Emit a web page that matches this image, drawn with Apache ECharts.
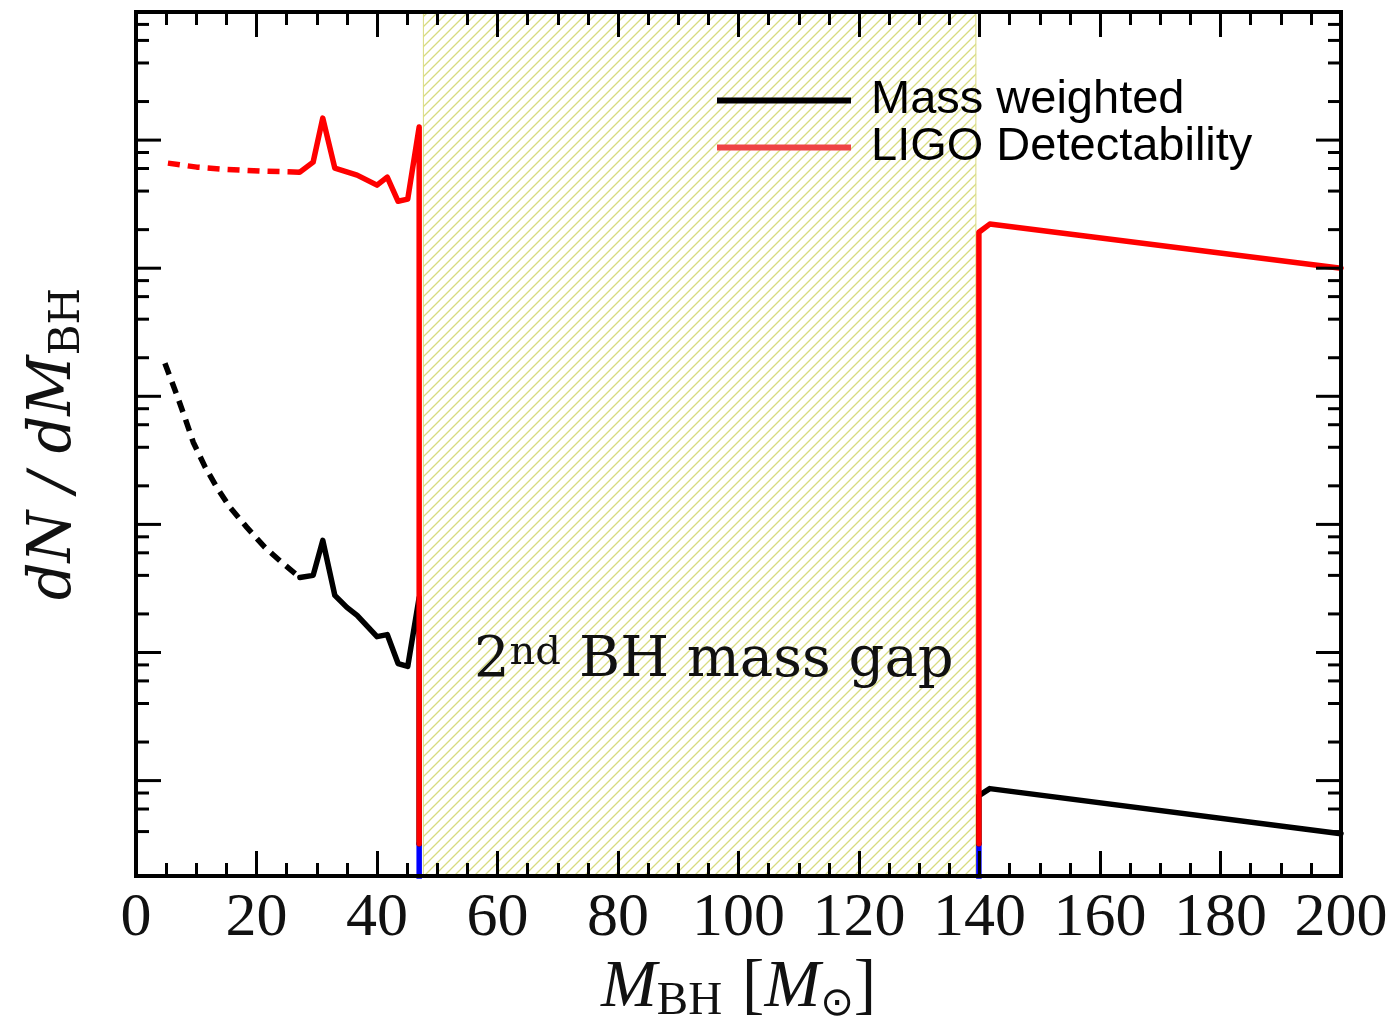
<!DOCTYPE html>
<html>
<head>
<meta charset="utf-8">
<script src="https://cdn.jsdelivr.net/npm/echarts@6/dist/echarts.min.js"></script>
<style>html,body{margin:0;padding:0;background:#fff;}#c{width:1396px;height:1023px;}</style>
</head>
<body>
<div id="c"></div>
<script>
// ---------------- data ----------------
const xMin = 0, xMax = 200, xInterval = 20;
const yMin = 0.18, yMax = 1e6;           // arbitrary units, log scale, no labels
const gapStart = 47.7, gapEnd = 139.4;    // hatched "2nd BH mass gap"
const gapLabelX = 95.9, gapLabelY = 8.1;

// LIGO detectability (red)
const ligoDashX = [5.3, 10.1, 14.4, 20.6, 27.2];
const ligoDashY = [6.61e4, 6.15e4, 5.93e4, 5.73e4, 5.62e4];
const ligoLowX  = [27.2, 29.4, 31.0, 33.0, 36.7, 40.0, 41.7, 43.5, 45.1, 47.0, 47.0];
const ligoLowY  = [5.62e4, 6.73e4, 1.486e5, 6.04e4, 5.33e4, 4.45e4, 5.14e4, 3.33e4, 3.46e4, 1.265e5, 0.322];
const ligoHighX = [139.9, 139.9, 141.7, 200];
const ligoHighY = [0.322, 1.91e4, 2.21e4, 1.0e4];

// Mass weighted (black)
const massDashX = [4.8, 6.8, 8.1, 9.5, 11.5, 13.4, 15.6, 18.4, 21.4, 24.4, 27.2];
const massDashY = [1811, 1019, 685, 438, 279, 195, 136, 94.8, 66.1, 49.5, 38.5];
const massLowX  = [27.2, 29.4, 31.0, 33.0, 35.0, 36.7, 40.0, 41.7, 43.5, 45.1, 47.0, 47.0];
const massLowY  = [38.5, 40.0, 75.0, 27.9, 22.5, 19.5, 13.3, 13.8, 8.20, 7.78, 26.9, 0.322];
const massHighX = [139.9, 139.9, 141.7, 200];
const massHighY = [0.322, 0.764, 0.866, 0.385];

// blue edge segments (visible only below the red)
const blueLeftX = [47.0, 47.0];
const blueLeftY = [0.322, 0.05];
const blueRightX = [139.9, 139.9];
const blueRightY = [0.05, 0.322];

const legendNames = ['Mass weighted', 'LIGO Detectability'];
// ----------------------------------------------------------------

const pairs = (xs, ys) => xs.map((x, i) => [x, ys[i]]);

// y-axis ticks: decades (major) and 2,4,6,8 (minor)
const yTicks = [];
for (let k = -1; k <= 6; k++) {
  const d = Math.pow(10, k);
  if (d >= yMin && d <= yMax) yTicks.push([0, d, 1]);
  [2, 4, 6, 8].forEach(m => {
    const v = m * d;
    if (v > yMin * 1.2 && v < yMax) yTicks.push([0, v, 0]);
  });
}

function hatch() {
  const s = 10;
  const c = document.createElement('canvas');
  c.width = s; c.height = s;
  const g = c.getContext('2d');
  g.strokeStyle = '#d8db80';
  g.lineWidth = 1.3;
  g.beginPath();
  g.moveTo(0, s); g.lineTo(s, 0);
  g.moveTo(-2, 2); g.lineTo(2, -2);
  g.moveTo(s - 2, s + 2); g.lineTo(s + 2, s - 2);
  g.stroke();
  return c;
}

const chart = echarts.init(document.getElementById('c'), null, {renderer: 'canvas'});

const serif = 'Liberation Serif';
const xAxisCommon = {
  type: 'value', min: xMin, max: xMax, interval: xInterval, z: 10,
  axisLine: {show: false},
  splitLine: {show: false},
  axisTick: {show: true, inside: true, length: 25, lineStyle: {color: '#000', width: 3}},
  minorTick: {show: true, splitNumber: 4, length: 13, lineStyle: {color: '#000', width: 3}},
  minorSplitLine: {show: false}
};

const lineBase = (name, data, color, dashed) => ({
  type: 'line', name: name, data: data, symbol: 'none', showSymbol: false,
  animation: false, silent: true, clip: true,
  itemStyle: {color: color},
  lineStyle: {color: color, width: 5.5, type: dashed ? [12, 8] : 'solid', join: 'round', cap: dashed ? 'butt' : 'round'},
  z: 3
});

const option = {
  animation: false,
  backgroundColor: '#fff',
  grid: {left: 136, right: 55, top: 12, bottom: 147, containLabel: false, outerBoundsMode: 'none',
         show: true, borderColor: '#000', borderWidth: 4, backgroundColor: 'transparent', z: 10},
  legend: {
    orient: 'vertical', left: 717, top: 77, itemWidth: 134, itemHeight: 6, itemGap: 0, padding: 0,
    selectedMode: false, z: 12,
    textStyle: {fontFamily: 'Liberation Sans', fontSize: 47, color: '#000', lineHeight: 47, padding: [0, 0, 0, 15]},
    data: [
      {name: legendNames[0], icon: 'rect', itemStyle: {color: '#000', borderWidth: 0}},
      {name: legendNames[1], icon: 'rect', itemStyle: {color: '#ef4444', borderWidth: 0}}
    ]
  },
  xAxis: [
    Object.assign({}, xAxisCommon, {
      position: 'bottom',
      axisLabel: {show: true, margin: 12, fontFamily: serif, fontSize: 62, lineHeight: 62, color: '#111'},
      name: '{it|M}{sub|BH}{sp|\u00a0}{n|[}{it|M}{sun|⊙}{n|]}',
      nameLocation: 'middle', nameGap: 72,
      nameTextStyle: {
        color: '#111',
        rich: {
          it: {fontFamily: serif, fontStyle: 'italic', fontSize: 67, lineHeight: 70, verticalAlign: 'top', color: '#111'},
          n: {fontFamily: serif, fontSize: 67, lineHeight: 70, verticalAlign: 'top', color: '#111'},
          sp: {fontFamily: serif, fontSize: 66, lineHeight: 70, verticalAlign: 'top', width: 20},
          sub: {fontFamily: serif, fontSize: 47, lineHeight: 30, verticalAlign: 'bottom', color: '#111'},
          sun: {fontFamily: 'DejaVu Sans', fontSize: 40, lineHeight: 30, verticalAlign: 'bottom', color: '#111'}
        }
      }
    }),
    Object.assign({}, xAxisCommon, {position: 'top', axisLabel: {show: false}})
  ],
  yAxis: {
    type: 'log', logBase: 10, min: yMin, max: yMax, z: 10,
    axisLine: {show: false}, axisTick: {show: false}, axisLabel: {show: false}, splitLine: {show: false},
    name: '{it|dN / dM}{sub|BH}', nameLocation: 'middle', nameRotate: 90, nameGap: 47,
    nameTextStyle: {
      color: '#111',
      rich: {
        it: {fontFamily: 'DejaVu Serif', fontStyle: 'italic', fontSize: 59, lineHeight: 64, verticalAlign: 'top', color: '#111'},
        sub: {fontFamily: 'DejaVu Serif', fontSize: 42, lineHeight: 28, verticalAlign: 'bottom', color: '#111'}
      }
    }
  },
  series: [
    Object.assign(lineBase('blueL', pairs(blueLeftX, blueLeftY), '#0000ff', false), {
      z: 2,
      markArea: {
        silent: true,
        itemStyle: {color: {image: hatch(), repeat: 'repeat'}, borderColor: '#d9db80', borderWidth: 1},
        data: [[{xAxis: gapStart}, {xAxis: gapEnd}]]
      },
      markPoint: {
        silent: true, symbol: 'circle', symbolSize: 1, itemStyle: {color: 'transparent'},
        label: {
          show: true, position: 'inside',
          formatter: '{n|2}{sup|nd}{sp|\u00a0}{n|BH mass gap}',
          rich: {
            n: {fontFamily: 'DejaVu Serif', fontSize: 56, lineHeight: 62, verticalAlign: 'top', color: '#111'},
            sp: {fontFamily: 'DejaVu Serif', fontSize: 56, lineHeight: 62, verticalAlign: 'top', width: 18},
            sup: {fontFamily: 'DejaVu Serif', fontSize: 40, lineHeight: 4, verticalAlign: 'top', color: '#111'}
          }
        },
        data: [{coord: [gapLabelX, gapLabelY]}]
      }
    }),
    lineBase('blueR', pairs(blueRightX, blueRightY), '#0000ff', false),
    lineBase(legendNames[0], pairs(massDashX, massDashY), '#000', true),
    lineBase(legendNames[0], pairs(massLowX, massLowY), '#000', false),
    lineBase(legendNames[0], pairs(massHighX, massHighY), '#000', false),
    lineBase(legendNames[1], pairs(ligoDashX, ligoDashY), '#ff0000', true),
    lineBase(legendNames[1], pairs(ligoLowX, ligoLowY), '#ff0000', false),
    lineBase(legendNames[1], pairs(ligoHighX, ligoHighY), '#ff0000', false),
    {
      type: 'custom', name: 'yticks', data: yTicks, clip: false, silent: true, z: 11,
      encode: {x: 0, y: 1},
      renderItem: function (params, api) {
        const v = api.value(1);
        const major = api.value(2) === 1;
        const p = api.coord([0, v]);
        const cs = params.coordSys;
        const len = major ? 25 : 13;
        const st = {stroke: '#000', lineWidth: 3};
        return {
          type: 'group',
          children: [
            {type: 'line', shape: {x1: cs.x, y1: p[1], x2: cs.x + len, y2: p[1]}, style: st},
            {type: 'line', shape: {x1: cs.x + cs.width - len, y1: p[1], x2: cs.x + cs.width, y2: p[1]}, style: st}
          ]
        };
      }
    }
  ]
};
chart.setOption(option);
</script>
</body>
</html>
